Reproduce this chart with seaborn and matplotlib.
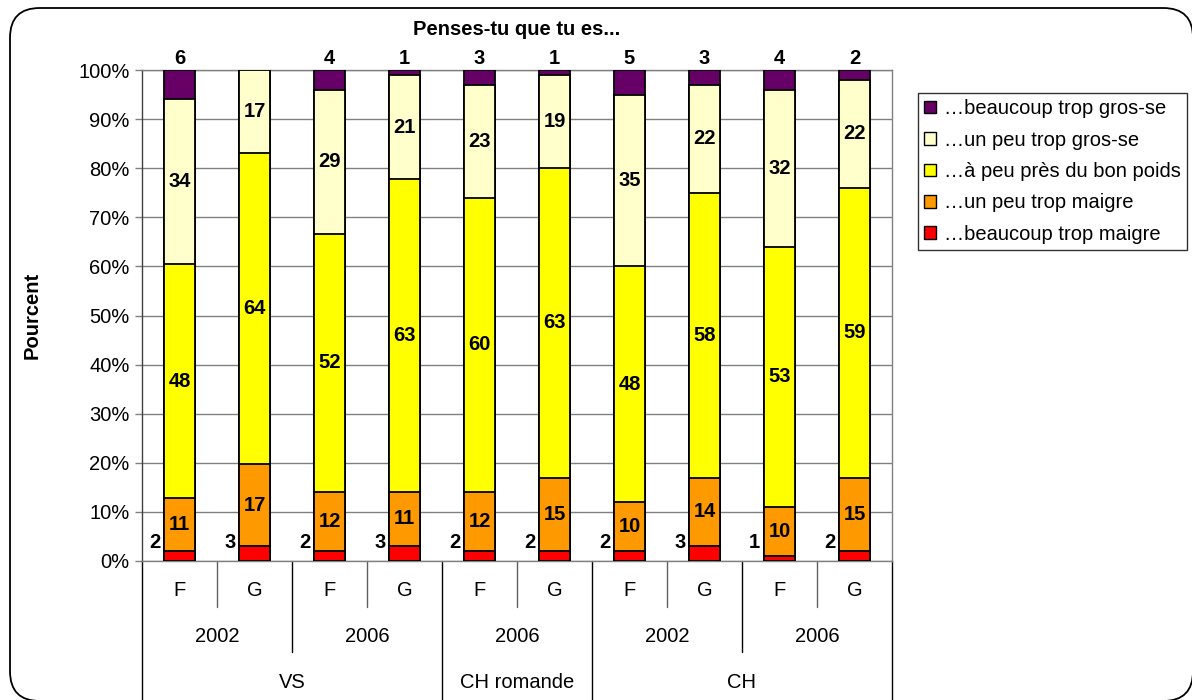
import numpy as np
import pandas as pd
import matplotlib
matplotlib.use("Agg")
import matplotlib.pyplot as plt
from matplotlib.patches import Patch, FancyBboxPatch
from matplotlib.lines import Line2D
import matplotlib.transforms as mtransforms
import seaborn as sns

# ---- data ----
regions = ["VS", "VS", "VS", "VS", "CH romande", "CH romande", "CH", "CH", "CH", "CH"]
years = ["2002", "2002", "2006", "2006", "2006", "2006", "2002", "2002", "2006", "2006"]
sexes = ["F", "G", "F", "G", "F", "G", "F", "G", "F", "G"]

series_names = ["…beaucoup trop maigre", "…un peu trop maigre", "…à peu près du bon poids",
                "…un peu trop gros-se", "…beaucoup trop gros-se"]
tres_maigre = [2, 3, 2, 3, 2, 2, 2, 3, 1, 2]
peu_maigre = [11, 17, 12, 11, 12, 15, 10, 14, 10, 15]
bon_poids = [48, 64, 52, 63, 60, 63, 48, 58, 53, 59]
peu_gros = [34, 17, 29, 21, 23, 19, 35, 22, 32, 22]
tres_gros = [6, 0, 4, 1, 3, 1, 5, 3, 4, 2]
colors = ["#FF0000", "#FF9900", "#FFFF00", "#FFFFCC", "#660066"]

sns.set_style("white")
plt.rcParams["font.family"] = ["Liberation Sans", "DejaVu Sans"]
plt.rcParams["text.color"] = "black"
plt.rcParams["axes.labelcolor"] = "black"
plt.rcParams["ytick.labelcolor"] = "black"
FS = 14.5

vals = np.array([tres_maigre, peu_maigre, bon_poids, peu_gros, tres_gros], dtype=float)
pct = vals / vals.sum(axis=0) * 100
cum = np.cumsum(pct, axis=0)
cats = [f"b{i}" for i in range(len(sexes))]

fig = plt.figure(figsize=(11.92, 7.0), dpi=100)
W, H = 1192, 700
ax = fig.add_axes([142 / W, 1 - 561 / H, (892 - 142) / W, (561 - 70) / H])

# draw cumulative bars from top series down so each lower one overlays
for k in range(4, -1, -1):
    df = pd.DataFrame({"cat": cats, "val": cum[k]})
    sns.barplot(data=df, x="cat", y="val", order=cats, color=colors[k], saturation=1,
                width=0.41, edgecolor="black", linewidth=1.3, ax=ax, zorder=3)

ax.set_ylim(0, 100)
ax.set_xlim(-0.5, len(cats) - 0.5)
ax.set_yticks(np.arange(0, 101, 10))
ax.set_yticklabels([f"{v}%" for v in range(0, 101, 10)], fontsize=FS, color="black")
ax.yaxis.grid(True, color="#808080", linewidth=1, zorder=0)
ax.set_axisbelow(True)
ax.set_xticks([])
ax.set_xlabel("")
ax.set_ylabel("Pourcent", fontsize=FS, fontweight="bold", labelpad=26, color="black")
ax.tick_params(axis="y", which="both", left=True, length=5, color="#808080", width=1, pad=4)
for s in ["top", "right", "bottom"]:
    ax.spines[s].set_color("#808080")
    ax.spines[s].set_linewidth(1)
ax.spines["left"].set_color("#404040")
ax.spines["left"].set_linewidth(1)
ax.set_title("Penses-tu que tu es...", fontsize=FS, fontweight="bold", pad=25, color="black")

# ---- value labels ----
bw = 0.41
for i in range(len(cats)):
    # lowest series: left of bar
    ax.text(i - bw / 2 - 0.05, 3.8, f"{int(vals[0, i])}", ha="right", va="center",
            fontsize=FS, fontweight="bold", zorder=5, color="black")
    for k in (1, 2, 3):
        mid = cum[k, i] - pct[k, i] / 2
        ax.text(i, mid, f"{int(vals[k, i])}", ha="center", va="center",
                fontsize=FS, fontweight="bold", zorder=5, color="black")
    if vals[4, i] > 0:
        ax.text(i, 100.4, f"{int(vals[4, i])}", ha="center", va="bottom",
                fontsize=FS, fontweight="bold", zorder=5, clip_on=False, color="black")

# ---- multi-level category axis ----
trans = mtransforms.blended_transform_factory(ax.transData, ax.transAxes)
axh = 561 - 70
y_sex = -(590 - 561) / axh
y_year = -(636 - 561) / axh
y_reg = -(682 - 561) / axh
end_sex = -(607 - 561) / axh
end_year = -(652 - 561) / axh
end_reg = -(700 - 561) / axh

def draw_sep(x, yend, color):
    ax.add_line(Line2D([x, x], [0, yend], transform=trans, color=color, lw=1, clip_on=False))

for i, s in enumerate(sexes):
    ax.text(i, y_sex, s, transform=trans, ha="center", va="center", fontsize=FS)

def groups(labels, keys):
    out = []
    start = 0
    for i in range(1, len(labels) + 1):
        if i == len(labels) or keys[i] != keys[start]:
            out.append((start, i - 1, labels[start]))
            start = i
    return out

year_keys = [r + y for r, y in zip(regions, years)]
year_groups = groups(years, year_keys)
reg_groups = groups(regions, regions)

for a, b, lab in year_groups:
    ax.text((a + b) / 2, y_year, lab, transform=trans, ha="center", va="center", fontsize=FS)
for a, b, lab in reg_groups:
    ax.text((a + b) / 2, y_reg, lab, transform=trans, ha="center", va="center", fontsize=FS)

reg_bounds = {a - 0.5 for a, b, _ in reg_groups} | {b + 0.5 for a, b, _ in reg_groups}
year_bounds = {a - 0.5 for a, b, _ in year_groups} | {b + 0.5 for a, b, _ in year_groups}
for i in range(len(cats) + 1):
    x = i - 0.5
    if x in reg_bounds:
        draw_sep(x, end_reg, "black")
    elif x in year_bounds:
        draw_sep(x, end_year, "black")
    else:
        draw_sep(x, end_sex, "#606060")

# ---- legend ----
handles = [Patch(facecolor=colors[k], edgecolor="black", linewidth=1, label=series_names[k])
           for k in range(4, -1, -1)]
leg = fig.legend(handles=handles, loc="upper left", bbox_to_anchor=(918 / W, 1 - 93 / H),
                 bbox_transform=fig.transFigure, fontsize=FS, frameon=True, fancybox=False,
                 handlelength=0.6, handleheight=0.6, handletextpad=0.4, labelspacing=0.62,
                 borderpad=0.3, borderaxespad=0)
leg.get_frame().set_edgecolor("black")
leg.get_frame().set_linewidth(1)

# ---- outer rounded border ----
border = FancyBboxPatch((10 / W, -1 / H), (1193 - 10) / W, (692 + 1) / H,
                        boxstyle="round,pad=0,rounding_size=0.025",
                        transform=fig.transFigure, facecolor="none", edgecolor="black",
                        linewidth=1.3, mutation_aspect=W / H)
fig.patches.append(border)

fig.savefig("out.png", dpi=100)
